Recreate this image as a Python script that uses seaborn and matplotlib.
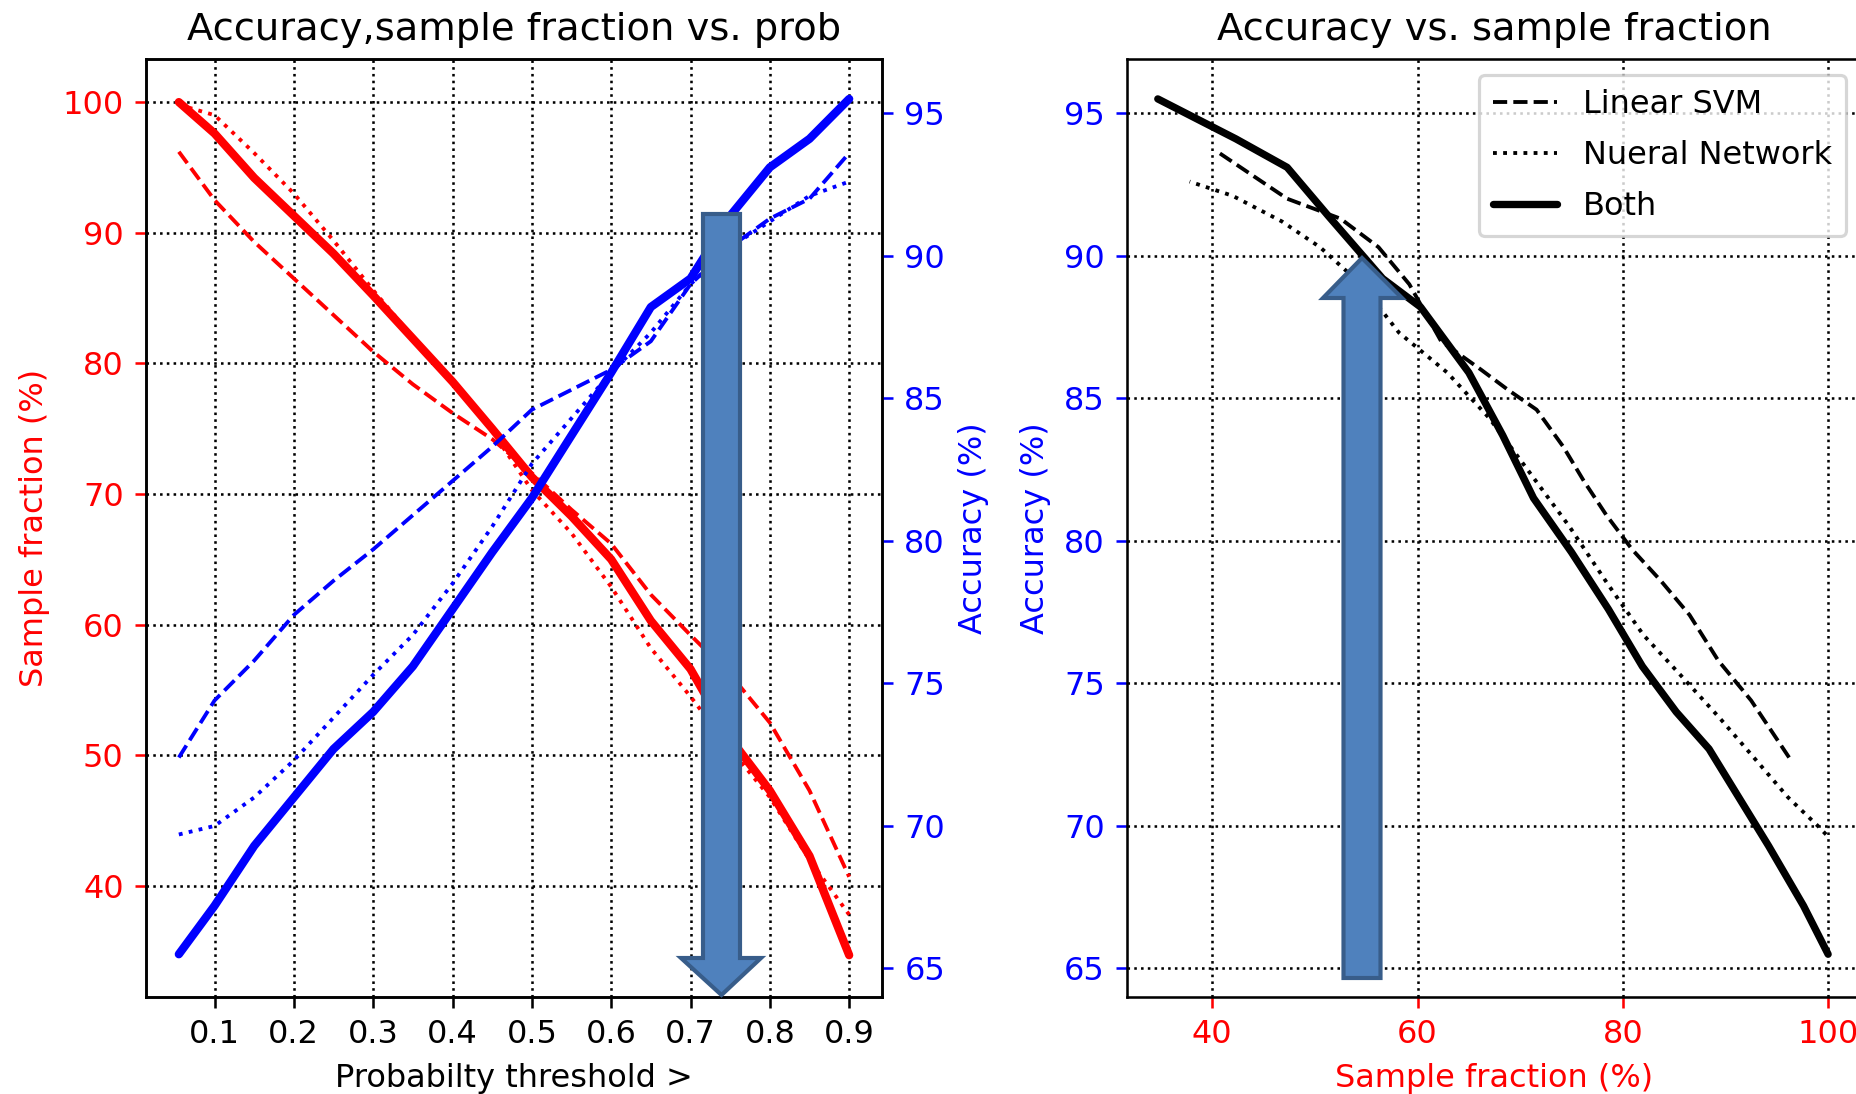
import matplotlib
matplotlib.use("Agg")
import matplotlib.pyplot as plt
from matplotlib.patches import Polygon
import seaborn as sns

# Probability thresholds applied to the classifier outputs
thresholds = [0.055, 0.10, 0.15, 0.20, 0.25, 0.30, 0.35, 0.40, 0.45,
              0.50, 0.55, 0.60, 0.65, 0.70, 0.75, 0.80, 0.85, 0.90]

# Fraction of samples kept (%) at each threshold
frac_svm = [96.2, 92.5, 89.3, 86.5, 83.7, 80.9, 78.4, 76.2, 74.2,
            71.6, 68.8, 66.2, 62.3, 59.2, 56.2, 52.5, 47.3, 40.7]
frac_nn = [99.8, 99.0, 96.1, 93.0, 89.4, 85.6, 82.0, 78.5, 74.8,
           70.3, 67.0, 62.9, 58.2, 54.5, 50.5, 46.8, 42.0, 37.8]
frac_both = [100.0, 97.6, 94.2, 91.3, 88.4, 85.2, 81.9, 78.6, 75.0,
             71.3, 68.3, 65.0, 60.3, 56.6, 51.3, 47.3, 42.3, 34.7]

# Accuracy (%) on the kept samples at each threshold
acc_svm = [72.4, 74.4, 75.8, 77.4, 78.6, 79.7, 80.9, 82.1, 83.3,
           84.6, 85.3, 86.0, 87.0, 89.0, 90.3, 91.3, 92.0, 93.6]
acc_nn = [69.7, 70.0, 71.0, 72.3, 73.8, 75.3, 76.7, 78.5, 80.5,
          82.7, 84.3, 85.9, 87.3, 89.0, 90.3, 91.2, 92.1, 92.6]
acc_both = [65.5, 67.2, 69.3, 71.0, 72.7, 74.0, 75.6, 77.6, 79.6,
            81.5, 83.7, 85.9, 88.2, 89.2, 91.4, 93.1, 94.1, 95.5]

series_labels = ["Linear SVM", "Nueral Network", "Both"]

prob_ticks = [0.1, 0.2, 0.3, 0.4, 0.5, 0.6, 0.7, 0.8, 0.9]
frac_ticks = [40, 50, 60, 70, 80, 90, 100]
acc_ticks = [65, 70, 75, 80, 85, 90, 95]
sf_ticks = [40, 60, 80, 100]

sns.set_style("ticks")
plt.rcParams.update({
    "font.size": 10,
    "axes.titlesize": 12,
    "axes.labelsize": 10,
    "xtick.labelsize": 10,
    "ytick.labelsize": 10,
    "legend.fontsize": 10,
    "axes.edgecolor": "black",
    "axes.linewidth": 0.8,
    "xtick.color": "black",
    "ytick.color": "black",
    "xtick.major.size": 3.5,
    "ytick.major.size": 3.5,
    "xtick.major.width": 0.8,
    "ytick.major.width": 0.8,
    "text.color": "black",
    "axes.labelcolor": "black",
})
plt.rcParams["font.family"] = ["DejaVu Sans"]

W, H, DPI = 1857, 1094, 230
fig = plt.figure(figsize=(W / DPI, H / DPI), dpi=DPI)
fig.patch.set_facecolor("white")


def frame(left, top, right, bottom):
    return [left / W, 1 - bottom / H, (right - left) / W, (bottom - top) / H]


# ---- Left panel: sample fraction and accuracy against the threshold ----
ax = fig.add_axes(frame(146, 59, 882, 997))
ax2 = ax.twinx()

styles = [("--", 1.2), (":", 1.2), ("-", 2.6)]
for ys, (ls, lw) in zip([frac_svm, frac_nn, frac_both], styles):
    sns.lineplot(x=thresholds, y=ys, ax=ax, color="red", linestyle=ls,
                 linewidth=lw, sort=False, estimator=None)
for ys, (ls, lw) in zip([acc_svm, acc_nn, acc_both], styles):
    sns.lineplot(x=thresholds, y=ys, ax=ax2, color="blue", linestyle=ls,
                 linewidth=lw, sort=False, estimator=None)

ax.set_xlim(0.0136, 0.9414)
ax.set_ylim(31.5, 103.3)
ax2.set_ylim(64.0, 96.9)
ax.set_xticks(prob_ticks)
ax.set_yticks(frac_ticks)
ax2.set_yticks(acc_ticks)
ax.grid(True, color="k", linestyle=":", linewidth=0.8)
ax2.grid(False)
ax.tick_params(axis="y", colors="red")
ax2.tick_params(axis="y", colors="blue")
ax.set_title("Accuracy,sample fraction vs. prob")
ax.set_xlabel("Probabilty threshold >")
ax.set_ylabel("Sample fraction (%)", color="red")
ax2.set_ylabel("Accuracy (%)", color="blue")

# ---- Right panel: accuracy against the kept sample fraction ----
axr = fig.add_axes(frame(1127, 59, 1862, 997))
right_styles = [("--", 1.2), (":", 1.2), ("-", 2.3)]
for xs, ys, lab, (ls, lw) in zip([frac_svm, frac_nn, frac_both],
                                 [acc_svm, acc_nn, acc_both],
                                 series_labels, right_styles):
    sns.lineplot(x=xs, y=ys, ax=axr, color="black", linestyle=ls,
                 linewidth=lw, label=lab, sort=False, estimator=None)

axr.set_xlim(31.7, 103.3)
axr.set_ylim(64.0, 96.9)
axr.set_xticks(sf_ticks)
axr.set_yticks(acc_ticks)
axr.grid(True, color="k", linestyle=":", linewidth=0.8)
axr.tick_params(axis="x", colors="red")
axr.tick_params(axis="y", colors="blue")
axr.set_title("Accuracy vs. sample fraction")
axr.set_xlabel("Sample fraction (%)", color="red")
axr.set_ylabel("Accuracy (%)", color="blue")
axr.legend(loc="upper right", frameon=True, fancybox=True,
           framealpha=0.8, edgecolor="0.8", facecolor="white",
           labelspacing=0.62, borderpad=0.45)

# ---- Block arrows drawn over both panels ----
fill, edge = "#4F81BD", "#385D8A"


def fig_poly(points):
    pts = [(x / W, 1 - y / H) for x, y in points]
    return Polygon(pts, closed=True, transform=fig.transFigure,
                   facecolor=fill, edgecolor=edge, linewidth=1.3,
                   joinstyle="miter", zorder=10)


down_arrow = [(703, 214), (740, 214), (740, 958), (761, 958),
              (721.5, 995), (681, 958), (703, 958)]
up_arrow = [(1343.5, 978), (1380.5, 978), (1380.5, 298), (1402, 298),
            (1362, 258), (1323, 298), (1343.5, 298)]
fig.add_artist(fig_poly(down_arrow))
fig.add_artist(fig_poly(up_arrow))

fig.savefig("out.png", dpi=DPI)
